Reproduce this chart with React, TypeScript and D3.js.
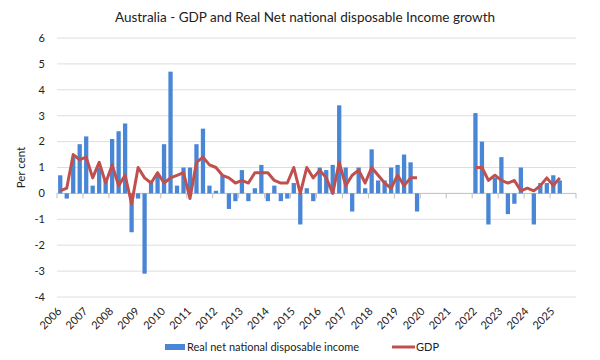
import React from 'react';
import * as d3 from 'd3';

// Quarterly growth, per cent. 2020-2021 left empty as in the source chart.
const years = ['2006', '2007', '2008', '2009', '2010', '2011', '2012', '2013', '2014', '2015',
  '2016', '2017', '2018', '2019', '2020', '2021', '2022', '2023', '2024', '2025'];
const quarters = ['Q1', 'Q2', 'Q3', 'Q4'];

const incomeValues: (number | null)[] = [
  0.7, -0.2, 1.4, 1.9,
  2.2, 0.3, 1.0, 0.5,
  2.1, 2.4, 2.7, -1.5,
  -0.2, -3.1, 0.4, 0.7,
  1.9, 4.7, 0.3, 1.0,
  1.0, 1.9, 2.5, 0.3,
  0.1, 0.7, -0.6, -0.3,
  0.9, -0.3, 0.2, 1.1,
  -0.3, 0.3, -0.3, -0.2,
  0.4, -1.2, 0.2, -0.3,
  1.0, 0.9, 1.1, 3.4,
  1.0, -0.7, 1.0, 0.2,
  1.7, 0.5, 0.5, 1.0,
  1.1, 1.5, 1.2, -0.7,
  null, null, null, null,
  null, null, null, null,
  3.1, 2.0, -1.2, 0.6,
  1.4, -0.8, -0.4, 1.0,
  0.0, -1.2, 0.4, 0.4,
  0.7, 0.5, null, null,
];

const gdpValues: (number | null)[] = [
  0.1, 0.2, 1.5, 1.3,
  1.4, 0.6, 1.2, 0.4,
  1.1, 0.3, 0.7, -0.4,
  1.0, 0.6, 0.4, 0.8,
  0.4, 0.6, 0.7, 0.8,
  -0.2, 1.2, 1.4, 1.1,
  1.0, 0.7, 0.6, 0.4,
  0.5, 0.4, 0.8, 0.8,
  0.8, 0.5, 0.4, 0.4,
  1.0, 0.0, 1.0, 0.6,
  0.9, 0.6, 0.0, 1.2,
  0.3, 0.7, 0.9, 0.4,
  1.0, 0.7, 0.4, 0.2,
  0.7, 0.3, 0.6, 0.6,
  null, null, null, null,
  null, null, null, null,
  1.0, 1.0, 0.5, 0.7,
  0.5, 0.4, 0.5, 0.1,
  0.2, 0.1, 0.3, 0.6,
  0.3, 0.6, null, null,
];

const yTicks = [6, 5, 4, 3, 2, 1, 0, -1, -2, -3, -4];

const categories = years.flatMap(y => quarters.map(q => `${y}${q}`));

const FONT = 'Lato, "Liberation Sans", sans-serif';
const BAR = '#4a86d6';
const LINE = '#c0504d';

export default function App() {
  const width = 600;
  const height = 360;
  const margin = { top: 38, right: 24, bottom: 63, left: 57 };

  const x = d3.scaleBand<string>()
    .domain(categories)
    .range([margin.left, width - margin.right])
    .paddingInner(0.34)
    .paddingOuter(0.17);

  const y = d3.scaleLinear()
    .domain([-4, 6])
    .range([height - margin.bottom, margin.top]);

  const step = x.step();
  const cx = (c: string) => (x(c) ?? 0) + x.bandwidth() / 2;

  const line = d3.line<number | null>()
    .defined(d => d !== null)
    .x((_, i) => cx(categories[i]))
    .y(d => y(d as number));

  return (
    <svg width={width} height={height} style={{ position: 'absolute', left: 0, top: 0, background: '#fff' }}
      fontFamily={FONT}>
      <text x={305} y={22} textAnchor="middle" fontSize={13.5} fill="#222">
        Australia - GDP and Real Net national disposable Income growth
      </text>

      {yTicks.map(t => (
        <g key={t}>
          <line x1={margin.left} x2={width - margin.right} y1={y(t)} y2={y(t)}
            stroke={t === 0 ? '#bfbfbf' : '#dedede'} strokeWidth={1} />
          <text x={45} y={y(t)} dy="0.35em" textAnchor="end" fontSize={11} fill="#222">{t}</text>
        </g>
      ))}

      <text transform={`translate(25, ${y(1)}) rotate(-90)`} textAnchor="middle" fontSize={11.5} fill="#222">
        Per cent
      </text>

      {incomeValues.map((v, i) => v === null ? null : (
        <rect key={categories[i]}
          x={x(categories[i])}
          width={x.bandwidth()}
          y={y(Math.max(0, v))}
          height={Math.abs(y(v) - y(0))}
          fill={BAR} />
      ))}

      {years.concat(['']).map((yr, k) => {
        const tx = margin.left + k * 4 * step;
        return <line key={'t' + k} x1={tx} x2={tx} y1={y(0)} y2={y(0) + 5} stroke="#bfbfbf" />;
      })}

      <path d={line(gdpValues) ?? ''} fill="none" stroke={LINE} strokeWidth={3} strokeLinejoin="round" />

      {years.map((yr, k) => {
        const lx = cx(`${yr}Q1`) + 2;
        return (
          <text key={yr} transform={`translate(${lx}, ${height - margin.bottom + 15}) rotate(-45)`}
            textAnchor="end" fontSize={11} fill="#222">{yr}</text>
        );
      })}

      <g transform="translate(165, 347)">
        <rect x={0} y={-3} width={20} height={6} fill={BAR} />
        <text x={22} y={0} dy="0.35em" fontSize={11} fill="#222">Real net national disposable income</text>
        <line x1={227} x2={250} y1={0} y2={0} stroke={LINE} strokeWidth={3} />
        <text x={251} y={0} dy="0.35em" fontSize={11} fill="#222">GDP</text>
      </g>
    </svg>
  );
}
